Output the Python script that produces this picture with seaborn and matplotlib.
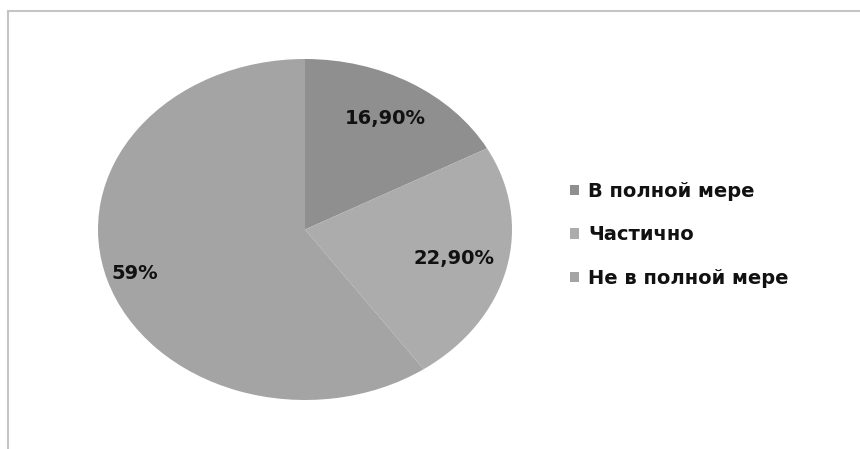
import matplotlib
matplotlib.use("Agg")
import matplotlib.pyplot as plt
from matplotlib.lines import Line2D
import seaborn as sns
import numpy as np

categories = ["В полной мере", "Частично", "Не в полной мере"]
values = [16.9, 22.9, 59.0]
pct_labels = ["16,90%", "22,90%", "59%"]
slice_colors = ["#8f8f8f", "#acacac", "#a4a4a4"]
label_dist = [0.76, 0.74, 0.86]

sns.set_style("white")
plt.rcParams["font.family"] = ["DejaVu Sans"]

W, H = 860, 449
fig = plt.figure(figsize=(W / 100, H / 100), dpi=100)
fig.patch.set_facecolor("white")

# pie box in pixels (left, top, right, bottom) - the source is stretched
l, t, r, b = 98, 59, 512, 400
ax = fig.add_axes([l / W, 1 - b / H, (r - l) / W, (b - t) / H])

wedges, _ = ax.pie(values, colors=slice_colors, startangle=90, counterclock=False,
                   radius=1.0, wedgeprops=dict(linewidth=0))
ax.set_aspect("auto")
ax.set_xlim(-1, 1)
ax.set_ylim(-1, 1)
ax.axis("off")

for w, txt, d in zip(wedges, pct_labels, label_dist):
    ang = np.deg2rad((w.theta1 + w.theta2) / 2)
    ax.text(d * np.cos(ang), d * np.sin(ang), txt, ha="center", va="center",
            fontsize=14, fontweight="bold", color="#111111")

handles = [plt.Rectangle((0, 0), 1, 1, facecolor=c, edgecolor="none") for c in slice_colors]
fig.legend(handles, categories, loc="upper left", bbox_to_anchor=(562 / W, 1 - 174 / H),
           frameon=False, prop=dict(weight="bold", size=14),
           handlelength=0.45, handleheight=0.45, handletextpad=0.5, labelspacing=1.27,
           borderaxespad=0, labelcolor="#111111")

# outer frame lines (top and left visible in the source)
fig.add_artist(Line2D([8 / W, 1], [1 - 11 / H, 1 - 11 / H], color="#c4c4c4", linewidth=1.5))
fig.add_artist(Line2D([8 / W, 8 / W], [0, 1 - 11 / H], color="#c4c4c4", linewidth=1.5))

fig.savefig("out.png", dpi=100)
